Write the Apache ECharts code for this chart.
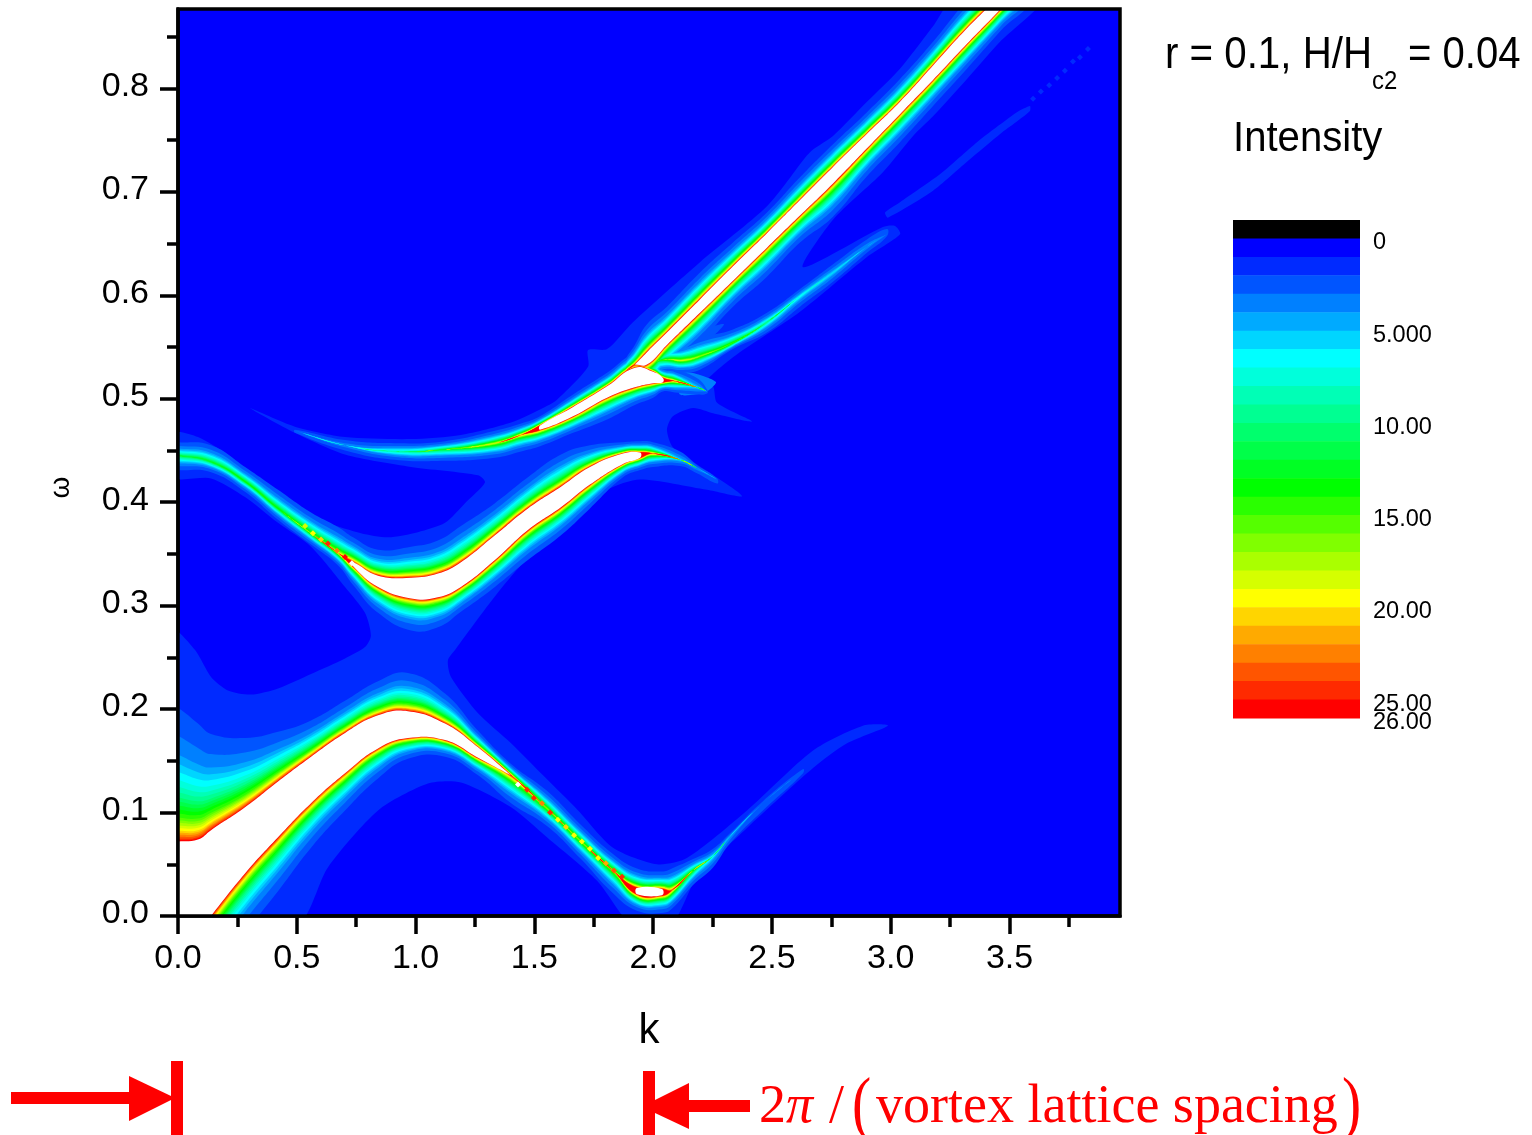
<!DOCTYPE html>
<html>
<head>
<meta charset="utf-8">
<script src="https://cdn.jsdelivr.net/npm/echarts@6/dist/echarts.min.js"></script>
<style>html,body{margin:0;padding:0;background:#fff}#c{width:1532px;height:1135px}</style>
</head>
<body>
<div id="c"></div>
<script>
// Axis ticks
const kTicks = [0, 0.5, 1, 1.5, 2, 2.5, 3, 3.5];
const kMinorTicks = [0.25, 0.75, 1.25, 1.75, 2.25, 2.75, 3.25, 3.75];
const wTicks = [0, 0.1, 0.2, 0.3, 0.4, 0.5, 0.6, 0.7, 0.8];
const wMinorTicks = [0.05, 0.15, 0.25, 0.35, 0.45, 0.55, 0.65, 0.75, 0.85];
const intensityTicks = [0, 5, 10, 15, 20, 25];
const intensityLabels = ['0', '5.000', '10.00', '15.00', '20.00', '25.00'];
const intensityTopTick = [26];
const intensityTopLabel = '26.00';

// Intensity levels 0..25, then white for everything above the scale
const levelColors = ['#0000ff','#002aff','#0055ff','#0080ff','#00aaff','#00d5ff','#00ffff','#00ffdb','#00ffb6','#00ff92','#00ff6d','#00ff49','#00ff24','#00ff00','#2aff00','#55ff00','#80ff00','#aaff00','#d5ff00','#ffff00','#ffd500','#ffaa00','#ff8000','#ff5500','#ff2a00','#ff0000','#ffffff'];
// Depth of each level's contour between the white core (0) and the level-2 edge (1), read from cross sections
const levelDepth = {2:1,3:.79,4:.65,5:.58,6:.52,7:.46,8:.41,9:.37,10:.33,11:.30,12:.27,13:.24,14:.21,15:.18,16:.16,17:.14,18:.12,19:.10,20:.08,21:.065,22:.05,23:.035,24:.02,25:.01,26:0};
const WHITE = 26;

// Level-1 region: outline of the whole faint spectral-weight area
const faintOutline = [[.303,.491],[.492,.473],[.703,.463],[.981,.461],[1.191,.465],[1.402,.477],[1.545,.492],[1.595,.499],[1.726,.531],[1.726,.547],[1.806,.548],[1.915,.574],[2.197,.632],[2.479,.686],[2.647,.735],[2.673,.741],[2.757,.754],[2.900,.787],[3.039,.819],[3.178,.860],[3.270,.887],[3.641,.887],[3.460,.845],[3.321,.809],[3.178,.773],[3.094,.754],[2.967,.719],[2.757,.673],[2.631,.627],[2.967,.666],[3.018,.667],[3.039,.659],[2.900,.637],[2.618,.584],[2.336,.540],[2.210,.514],[2.252,.512],[2.269,.496],[2.416,.478],[2.252,.486],[2.168,.491],[2.083,.483],[2.058,.470],[2.083,.453],[2.168,.439],[2.374,.406],[2.227,.412],[1.945,.422],[1.806,.412],[1.663,.386],[1.578,.373],[1.355,.315],[1.166,.257],[1.136,.247],[1.149,.231],[1.263,.196],[1.402,.167],[1.545,.134],[1.684,.102],[1.831,.066],[2.016,.050],[2.142,.056],[2.395,.102],[2.673,.160],[2.883,.184],[2.988,.184],[2.816,.167],[2.673,.143],[2.395,.085],[2.184,.037],[2.071,-.01],[1.915,-.01],[1.764,.034],[1.553,.076],[1.402,.105],[1.191,.129],[1.052,.128],[.842,.102],[.631,.047],[.497,-.01],[-.02,-.01],[-.02,.276],[.072,.257],[.139,.231],[.210,.218],[.307,.214],[.421,.220],[.560,.234],[.703,.249],[.787,.260],[.812,.271],[.787,.293],[.703,.318],[.560,.357],[.421,.380],[.282,.405],[.139,.423],[-.02,.424],[-.02,.467],[.084,.463],[.210,.446],[.349,.422],[.492,.399],[.631,.380],[.770,.370],[.884,.366],[1.010,.371],[1.124,.380],[1.208,.399],[1.292,.419],[1.263,.426],[.981,.434],[.703,.446],[.492,.467]];
const farStreak = [[2.976,.680],[3.039,.690],[3.207,.717],[3.363,.748],[3.460,.765],[3.531,.777],[3.586,.783],[3.586,.778],[3.514,.765],[3.472,.758],[3.321,.729],[3.178,.701],[2.988,.675]];
const wedgeLevel2 = [[1.987,.528],[2.155,.562],[2.298,.572],[2.197,.547],[2.133,.523]];
const tailLevel3 = [[2.113,.526],[2.197,.523],[2.265,.516],[2.219,.506],[2.113,.504]];

// Lower band (the first station lies just left of the frame)
const lowK = [-.12,0,.084,.139,.282,.421,.560,.703,.842,.968,1.124,1.263,1.402,1.553,1.692,1.831,1.932,2.037,2.079,2.168,2.252,2.323,2.462,2.631];
const lowCoreTop = [.071,.072,.074,.083,.105,.130,.154,.177,.194,.198,.186,.163,.136,.104,.073,.044,.027,.026,.025,.044,.058,.077,.109,.141];
const lowCoreBot = [-.09,-.044,-.016,0,.041,.076,.109,.138,.162,.172,.170,.153,.136,.104,.073,.044,.021,.020,.025,.044,.058,.077,.109,.141];
const lowEdgeTop = [.215,.201,.186,.176,.172,.178,.189,.208,.227,.235,.215,.179,.147,.121,.089,.060,.046,.043,.046,.055,.065,.080,.111,.142];
const lowEdgeBot = [-.15,-.111,-.074,-.059,-.016,.024,.066,.102,.133,.152,.154,.136,.109,.087,.056,.022,.005,.003,.007,.030,.047,.070,.102,.138];
const lowPeak = [26,26,26,26,26,26,26,26,26,26,26,26,26,17,17,18,26,26,24,14,7,5,3,3];

// Middle band (the first station lies just left of the frame)
const midK = [-.12,0,.139,.282,.421,.560,.673,.737,.842,.981,1.094,1.191,1.334,1.473,1.612,1.734,1.873,1.945,1.999,2.113,2.184,2.269];
const midCoreTop = [.447,.445,.439,.420,.394,.370,.351,.342,.329,.327,.331,.342,.368,.394,.415,.434,.447,.448,.447,.441,.433,.422];
const midCoreBot = [.447,.445,.439,.420,.394,.370,.351,.338,.318,.307,.308,.318,.344,.373,.395,.417,.437,.443,.447,.441,.433,.422];
const midEdgeTop = [.459,.458,.455,.434,.412,.390,.376,.366,.354,.357,.363,.377,.399,.424,.446,.455,.458,.459,.458,.449,.436,.423];
const midEdgeBot = [.433,.431,.429,.410,.383,.359,.339,.320,.293,.276,.279,.294,.318,.344,.368,.394,.424,.431,.434,.435,.428,.418];
const midPeak = [12,12,13,14,14,16,20,26,26,26,26,26,26,26,26,26,26,26,23,6,4,3];

// Upper band
const upK = [.492,.703,.913,1.124,1.334,1.444,1.524,1.663,1.806,1.923,2.000,2.041,2.092,2.184,2.227];
const upCoreTop = [.469,.455,.449,.451,.457,.465,.474,.492,.512,.530,.526,.520,.517,.511,.507];
const upCoreBot = [.469,.455,.449,.451,.457,.465,.470,.483,.501,.511,.515,.516,.517,.511,.507];
const upEdgeTop = [.470,.460,.457,.459,.469,.476,.483,.504,.525,.543,.536,.530,.528,.520,.509];
const upEdgeBot = [.467,.450,.441,.440,.443,.449,.454,.467,.480,.494,.501,.507,.506,.504,.505];
const upPeak = [3,4,9,13,19,22,26,26,26,26,26,26,23,6,3];

// Main diagonal band
const mainK = [1.881,1.923,1.974,2.058,2.197,2.336,2.479,2.618,2.757,2.900,3.039,3.178,3.321,3.460,3.600];
const mainCoreTop = [.526,.533,.545,.564,.596,.628,.660,.692,.724,.756,.787,.822,.858,.890,.925];
const mainCoreBot = [.526,.533,.533,.552,.583,.614,.646,.677,.708,.742,.775,.808,.843,.876,.911];
const mainEdgeTop = [.535,.552,.572,.589,.622,.651,.680,.714,.746,.777,.809,.845,.885,.916,.950];
const mainEdgeBot = [.515,.510,.509,.528,.555,.589,.618,.651,.676,.715,.748,.783,.819,.855,.890];
const mainPeak = [23,26,26,26,26,26,26,26,26,26,26,26,26,26,26];

// Secondary branch
const sideK = [2.008,2.062,2.125,2.197,2.336,2.479,2.618,2.757,2.900,2.984];
const sideCore = [.536,.538,.537,.541,.554,.574,.599,.622,.647,.659];
const sideEdgeTop = [.546,.549,.552,.559,.567,.583,.606,.630,.654,.664];
const sideEdgeBot = [.526,.526,.525,.528,.548,.564,.589,.613,.641,.657];
const sidePeak = [11,16,19,17,15,10,7,6,4,3];

// Isolated bright spots along the bands: [k, omega, level]
const spots = [[1.431,.127,26],[1.469,.122,24],[1.498,.114,24],[1.532,.109,22],[1.566,.100,24],[1.599,.093,19],[1.633,.086,20],[1.667,.078,19],[1.700,.072,19],[1.734,.065,19],[1.768,.056,19],[1.801,.051,21],[1.835,.044,23],[1.869,.038,24],
  [.535,.377,18],[.568,.370,19],[.602,.364,20],[.631,.360,24],[.669,.353,22],[.703,.347,25],[.732,.341,26],
  [3.599,.790,1],[3.632,.797,1],[3.667,.803,1],[3.700,.810,1],[3.733,.817,1],[3.767,.826,1],[3.796,.830,1],[3.830,.838,1]];

const ridges = [
  {k: lowK, top: lowCoreTop, bot: lowCoreBot, edgeTop: lowEdgeTop, edgeBot: lowEdgeBot, peak: lowPeak},
  {k: midK, top: midCoreTop, bot: midCoreBot, edgeTop: midEdgeTop, edgeBot: midEdgeBot, peak: midPeak},
  {k: upK, top: upCoreTop, bot: upCoreBot, edgeTop: upEdgeTop, edgeBot: upEdgeBot, peak: upPeak},
  {k: sideK, top: sideCore, bot: sideCore, edgeTop: sideEdgeTop, edgeBot: sideEdgeBot, peak: sidePeak},
  {k: mainK, top: mainCoreTop, bot: mainCoreBot, edgeTop: mainEdgeTop, edgeBot: mainEdgeBot, peak: mainPeak}
];

// Contour regions, painted from the faintest level up
const regions = [{level: 1, pts: faintOutline, smooth: 0.25}, {level: 1, pts: farStreak, smooth: 0.2}, {level: 2, pts: wedgeLevel2, smooth: 0.2}, {level: 3, pts: tailLevel3, smooth: 0.2}];
function pushBand(r, level) {
  const up = [], dn = [];
  r.k.forEach((k, i) => {
    const p = r.peak[i];
    let d = p < level ? 0 : (levelDepth[level] - levelDepth[p]) / (1 - levelDepth[p]);
    up.push([k, r.top[i] + (r.edgeTop[i] - r.top[i]) * d]);
    dn.push([k, r.bot[i] + (r.edgeBot[i] - r.bot[i]) * d]);
  });
  regions.push({level, pts: up.concat(dn.reverse()), smooth: 0.45});
}
function pushCore(r) {
  let run = [];
  const flush = () => {
    if (run.length > 1) {
      regions.push({level: WHITE, smooth: 0.45, pts: run.map(i => [r.k[i], r.top[i]]).concat(run.slice().reverse().map(i => [r.k[i], r.bot[i]]))});
    }
    run = [];
  };
  r.k.forEach((k, i) => { if (r.peak[i] >= WHITE) run.push(i); else flush(); });
  flush();
}
for (let level = 2; level < WHITE; level++) ridges.forEach(r => pushBand(r, level));
ridges.forEach(pushCore);

const colorbarRows = [];
for (let v = -1; v < 26; v++) colorbarRows.push([0, v]);

const chart = echarts.init(document.getElementById('c'), null, {renderer: 'canvas'});
const SANS = '"Liberation Sans", Arial, sans-serif';
const SERIF = '"Liberation Serif", "Times New Roman", serif';
const RED = '#ff0000';
const txt = (text, x, y, font, fill, scaleX, extra) => Object.assign({type: 'text', x, y, scaleX: scaleX || 1, z: 100,
  style: {text, font, fill, textAlign: 'left', textVerticalAlign: 'middle', verticalAlign: 'middle'}}, extra || {});
const box = (x, y, width, height) => ({type: 'rect', z: 100, shape: {x, y, width, height}, style: {fill: RED}});
const poly = points => ({type: 'polygon', z: 100, shape: {points}, style: {fill: RED}});
const LINE = {color: '#000', width: 3.5};

chart.setOption({
  animation: false,
  backgroundColor: '#fff',
  grid: [
    {left: 178, top: 9, width: 942, height: 907, show: true, backgroundColor: levelColors[0], borderWidth: 0},
    {left: 1233, top: 220, width: 127, height: 516.44, show: false}
  ],
  xAxis: [
    {type: 'value', gridIndex: 0, min: 0, max: 3.965, position: 'bottom', name: 'k', nameLocation: 'middle', nameGap: 94,
      nameTextStyle: {fontFamily: SANS, fontSize: 42, color: '#000'},
      axisLine: {onZero: false, lineStyle: LINE}, splitLine: {show: false},
      axisTick: {length: 18, lineStyle: LINE, customValues: kTicks},
      axisLabel: {margin: 26, fontFamily: SANS, fontSize: 34, color: '#000', customValues: kTicks, formatter: v => v.toFixed(1)}},
    {type: 'value', gridIndex: 0, min: 0, max: 3.965, position: 'bottom',
      axisLine: {show: false}, splitLine: {show: false}, axisLabel: {show: false},
      axisTick: {length: 11, lineStyle: LINE, customValues: kMinorTicks}},
    {type: 'value', gridIndex: 1, min: 0, max: 1, show: false}
  ],
  yAxis: [
    {type: 'value', gridIndex: 0, min: 0, max: 0.8767, position: 'left', name: 'ω', nameLocation: 'middle', nameGap: 103, nameRotate: 90,
      nameTextStyle: {fontFamily: SANS, fontSize: 28, color: '#000', padding: [0, 50, 0, 0]},
      axisLine: {onZero: false, lineStyle: LINE}, splitLine: {show: false},
      axisTick: {length: 18, lineStyle: LINE, customValues: wTicks},
      axisLabel: {margin: 29, verticalAlign: 'bottom', lineHeight: 4, fontFamily: SANS, fontSize: 34, color: '#000', customValues: wTicks, formatter: v => v.toFixed(1)}},
    {type: 'value', gridIndex: 0, min: 0, max: 0.8767, position: 'left',
      axisLine: {show: false}, splitLine: {show: false}, axisLabel: {show: false},
      axisTick: {length: 11, lineStyle: LINE, customValues: wMinorTicks}},
    {type: 'value', gridIndex: 1, min: -1, max: 27, inverse: true, position: 'right',
      axisLine: {show: false}, axisTick: {show: false}, splitLine: {show: false},
      axisLabel: {margin: 13, verticalAlign: 'top', lineHeight: 9, fontFamily: SANS, fontSize: 23.5, color: '#000', customValues: intensityTicks, hideOverlap: false,
        formatter: v => intensityLabels[intensityTicks.indexOf(v)]}},
    {type: 'value', gridIndex: 1, min: -1, max: 27, inverse: true, position: 'right',
      axisLine: {show: false}, axisTick: {show: false}, splitLine: {show: false},
      axisLabel: {margin: 13, verticalAlign: 'top', lineHeight: 9, fontFamily: SANS, fontSize: 23.5, color: '#000', customValues: intensityTopTick, hideOverlap: false,
        formatter: () => intensityTopLabel}}
  ],
  series: [
    {type: 'custom', name: 'Intensity', xAxisIndex: 0, yAxisIndex: 0, clip: true, silent: true, z: 2,
      data: regions.map(() => [0, 0]),
      renderItem: (params, api) => {
        const r = regions[params.dataIndex];
        return {type: 'polygon', shape: {points: r.pts.map(p => api.coord(p)), smooth: r.smooth}, style: {fill: levelColors[r.level]}};
      }},
    {type: 'scatter', name: 'Spots', xAxisIndex: 0, yAxisIndex: 0, clip: true, silent: true, z: 3,
      symbol: 'diamond', symbolSize: 6, data: spots,
      itemStyle: {opacity: 1, color: p => levelColors[p.value[2]]}},
    {type: 'custom', name: 'Colorbar', xAxisIndex: 2, yAxisIndex: 2, silent: true, z: 2,
      data: colorbarRows,
      renderItem: (params, api) => {
        const a = api.coord([0, api.value(1)]);
        const b = api.coord([1, api.value(1) + 1]);
        const i = params.dataIndex;
        return {type: 'rect', shape: {x: a[0], y: a[1], width: b[0] - a[0], height: b[1] - a[1] + 0.5},
          style: {fill: i === 0 ? '#000' : levelColors[i - 1]}};
      }}
  ],
  graphic: {elements: [
    {type: 'rect', z: 99, shape: {x: 178, y: 9, width: 942, height: 907}, style: {fill: 'none', stroke: '#000', lineWidth: 3.5}},
    txt('r = 0.1, H/H', 1165, 56, '44px ' + SANS, '#000', 0.915),
    txt('c2', 1372, 82, '26px ' + SANS, '#000', 0.92),
    txt('= 0.04', 1408, 56, '44px ' + SANS, '#000', 0.91),
    txt('Intensity', 1233, 139, '42px ' + SANS, '#000', 0.955),
    box(11, 1092, 118, 12), poly([[129, 1076], [171, 1096], [171, 1100], [129, 1121]]), box(171, 1061, 12, 74),
    box(643, 1071, 12, 64), poly([[689, 1083], [655, 1100], [655, 1113], [689, 1129]]), box(689, 1100, 61, 12),
    txt('2', 759, 1108, '54px ' + SERIF, RED),
    txt('π', 786, 1108, 'italic 54px ' + SERIF, RED),
    txt('/', 829, 1108, '54px ' + SERIF, RED),
    txt('(', 852, 1108, '72px ' + SERIF, RED, 0.8),
    txt('vortex lattice spacing', 876, 1108, '54px ' + SERIF, RED),
    txt(')', 1342, 1108, '72px ' + SERIF, RED, 0.8)
  ]}
});
</script>
</body>
</html>
